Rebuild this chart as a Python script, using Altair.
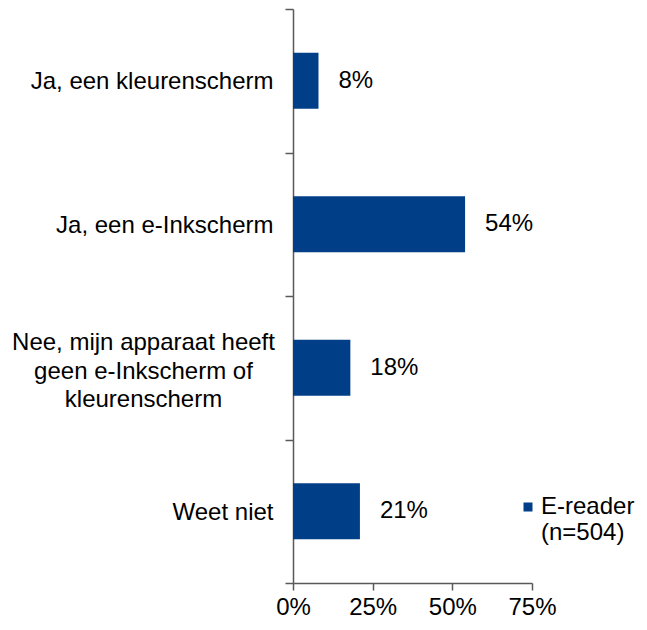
import altair as alt
import pandas as pd

categories = [
    "Ja, een kleurenscherm",
    "Ja, een e-Inkscherm",
    "Nee, mijn apparaat heeft|geen e-Inkscherm of|kleurenscherm",
    "Weet niet",
]
values = [0.08, 0.54, 0.18, 0.21]
series = ["E-reader"] * 4
legend_lines = ["E-reader", "(n=504)"]
x_ticks = [0, 0.25, 0.5, 0.75]

df = pd.DataFrame({"cat": categories, "val": values, "series": series})

FONT = "Liberation Sans"
BLUE = "#003F87"
AXIS = "#595959"

legend_expr = "[" + ", ".join("'" + s + "'" for s in legend_lines) + "]"
multi = "indexof(datum.label, '|') >= 0"

base = alt.Chart(df).encode(
    y=alt.Y(
        "cat:N",
        sort=categories,
        title=None,
        scale=alt.Scale(paddingInner=0, paddingOuter=0),
        axis=alt.Axis(
            labelExpr="split(datum.label, '|')",
            labelFont=FONT,
            labelFontSize=24,
            labelColor="#000000",
            labelLineHeight=28.5,
            labelLimit=400,
            labelAlign={"condition": {"test": multi, "value": "center"}, "value": "right"},
            labelPadding={"condition": {"test": multi, "value": 142}, "value": 12},
            labelOffset={"condition": {"test": multi, "value": -25}, "value": 1},
            tickBand="extent",
            tickSize=8,
            tickColor=AXIS,
            tickWidth=1.5,
            domainColor=AXIS,
            domainWidth=1.5,
        ),
    ),
    x=alt.X(
        "val:Q",
        title=None,
        scale=alt.Scale(domain=[0, 0.75], nice=False),
        axis=alt.Axis(
            values=x_ticks,
            format=".0%",
            grid=False,
            labelFlush=False,
            labelFont=FONT,
            labelFontSize=24,
            labelColor="#000000",
            labelPadding=5,
            tickSize=7,
            tickColor=AXIS,
            tickWidth=1.5,
            domainColor=AXIS,
            domainWidth=1.5,
        ),
    ),
)

bars = base.mark_bar(color=BLUE, size=56).encode(
    color=alt.Color(
        "series:N",
        scale=alt.Scale(range=[BLUE]),
        legend=alt.Legend(
            title=None,
            orient="none",
            legendX=223,
            legendY=486,
            padding=0,
            symbolType="square",
            symbolSize=81,
            symbolStrokeWidth=0,
            symbolOffset=0,
            labelExpr=legend_expr,
            labelFont=FONT,
            labelFontSize=24,
            labelColor="#000000",
            labelOffset=1,
            labelLimit=300,
        ),
    )
)

labels = base.mark_text(
    align="left", baseline="middle", dx=20, font=FONT, fontSize=24, color="#000000"
).encode(text=alt.Text("val:Q", format=".0%"))

chart = (
    alt.layer(bars, labels)
    .properties(
        width=239,
        height=574,
        autosize=alt.AutoSizeParams(type="none"),
        padding={"left": 285, "top": 1, "right": 106, "bottom": 35},
    )
    .configure_view(stroke=None)
)

chart.save("out.html", embed_options={"renderer": "svg", "actions": False})
